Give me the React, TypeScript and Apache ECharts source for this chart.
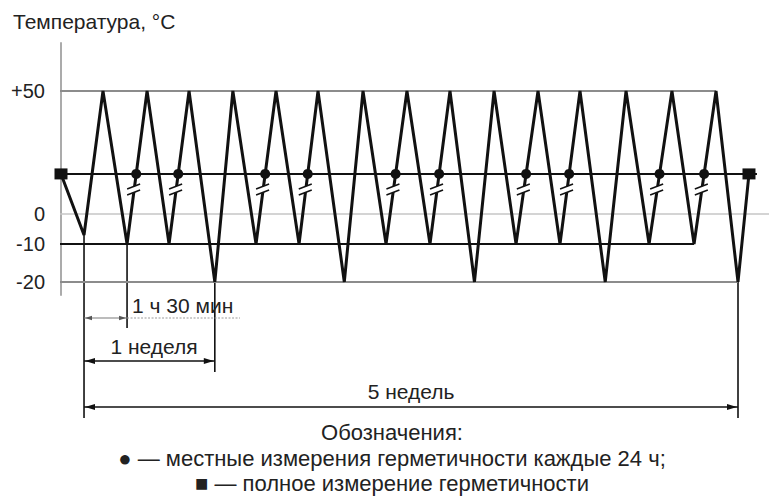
import React, { useEffect, useRef } from "react";
import * as echarts from "echarts";

// ---- data ----
// time of each vertex of the temperature profile, in weeks (0 = first cold point)
const VERTEX_WEEKS = [
  -0.176, 0, 0.145, 0.329, 0.482, 0.65, 0.803, 1.0,
  1.138, 1.315, 1.468, 1.644, 1.789, 1.99,
  2.133, 2.309, 2.469, 2.645, 2.798, 2.985,
  3.135, 3.303, 3.471, 3.639, 3.792, 3.985,
  4.144, 4.32, 4.495, 4.664, 4.832, 5.0, 5.084,
];
// temperature at each vertex, °C
const VERTEX_TEMPS = [
  20, -7, 50, -10, 50, -10, 50, -20,
  50, -10, 50, -10, 50, -20,
  50, -10, 50, -10, 50, -20,
  50, -10, 50, -10, 50, -20,
  50, -10, 50, -10, 50, -20, 20,
];
const ROOM_TEMP = 20; // level of the measurement line
const BREAK_TEMP = 12; // where the time-break marks sit on the rising edges
// index of the trough that starts a rising edge with a local check (●)
const LOCAL_CHECK_TROUGHS = [3, 5, 9, 11, 15, 17, 21, 23, 27, 29];
// vertices with a full check (■)
const FULL_CHECK_VERTICES = [0, 32];

const Y_TICKS = [50, 0, -10, -20];
const Y_TICK_LABELS = ["+50", "0", "-10", "-20"];

const LEVEL_TEMPS = [50, ROOM_TEMP, 0, -10, -20];
const LEVEL_START = -0.275;
const LEVEL_ENDS = [4.832, 5.145, 5.24, 4.664, 5.0];

// schematic (non-linear) vertical scale of the drawing: °C -> drawing units
const SCALE_TEMPS = [-20, -10, 0, 20, 50];
const SCALE_UNITS = [-27.6, -12.2, 0, 16.3, 50];

const TITLE = "Температура, °C";
const DIM_CYCLE = "1 ч 30 мин";
const DIM_WEEK = "1 неделя";
const DIM_TOTAL = "5 недель";
const LEGEND_TITLE = "Обозначения:";
const LEGEND_LOCAL = "● — местные измерения герметичности каждые 24 ч;";
const LEGEND_FULL = "■ — полное измерение герметичности";

// ---- styles ----
const FONT = '"Liberation Sans", Arial, Helvetica, sans-serif';
const INK = "#111";
const TEXT = "#222";
const LEVEL_STYLES = [
  { color: "#8c8c8c", width: 2 },
  { color: "#111", width: 2 },
  { color: "#c6c6c6", width: 1.5 },
  { color: "#111", width: 2 },
  { color: "#8c8c8c", width: 2 },
];

function toU(t: number): number {
  for (let i = 0; i < SCALE_TEMPS.length - 1; i++) {
    const t0 = SCALE_TEMPS[i], t1 = SCALE_TEMPS[i + 1];
    if (t <= t1 || i === SCALE_TEMPS.length - 2) {
      const u0 = SCALE_UNITS[i], u1 = SCALE_UNITS[i + 1];
      return u0 + ((t - t0) / (t1 - t0)) * (u1 - u0);
    }
  }
  return t;
}

function risingPoint(i: number, t: number): [number, number] {
  const u0 = toU(VERTEX_TEMPS[i]);
  const u1 = toU(VERTEX_TEMPS[i + 1]);
  const ut = toU(t);
  const f = (ut - u0) / (u1 - u0);
  return [VERTEX_WEEKS[i] + f * (VERTEX_WEEKS[i + 1] - VERTEX_WEEKS[i]), ut];
}

export default function App() {
  const ref = useRef<HTMLDivElement>(null);

  useEffect(() => {
    document.body.style.margin = "0";
    const el = ref.current!;
    const chart = echarts.init(el, null, { renderer: "svg" });

    const profile = VERTEX_WEEKS.map((w, i) => [w, toU(VERTEX_TEMPS[i])]);
    const dots = LOCAL_CHECK_TROUGHS.map((i) => risingPoint(i, ROOM_TEMP));
    const breaks = LOCAL_CHECK_TROUGHS.map((i) => risingPoint(i, BREAK_TEMP));
    const squares = FULL_CHECK_VERTICES.map((i) => [VERTEX_WEEKS[i], toU(VERTEX_TEMPS[i])]);
    const tickUnits = Y_TICKS.map(toU);

    const levelSeries = LEVEL_TEMPS.map((t, k) => ({
      type: "line",
      data: [
        [LEVEL_START, toU(t)],
        [LEVEL_ENDS[k], toU(t)],
      ],
      symbol: "none",
      clip: false,
      silent: true,
      lineStyle: { color: LEVEL_STYLES[k].color, width: LEVEL_STYLES[k].width, opacity: 1 },
      z: 1,
    }));

    chart.setOption({
      animation: false,
      backgroundColor: "#fff",
      grid: { left: 61, top: 43, width: 708, height: 252, outerBoundsMode: "none", containLabel: false },
      xAxis: { type: "value", min: -0.176, max: 5.237, show: false },
      yAxis: {
        type: "value",
        min: -32.9,
        max: 69.5,
        axisLine: { show: true, onZero: false, lineStyle: { color: "#ababab", width: 2 } },
        axisTick: { show: false },
        splitLine: { show: false },
        axisLabel: {
          customValues: tickUnits,
          formatter: (v: number) => {
            let best = 0;
            tickUnits.forEach((u, i) => {
              if (Math.abs(u - v) < Math.abs(tickUnits[best] - v)) best = i;
            });
            return Y_TICK_LABELS[best];
          },
          fontSize: 20,
          fontFamily: FONT,
          color: TEXT,
          margin: 16,
        },
      },
      series: [
        ...levelSeries,
        {
          type: "line",
          data: profile,
          symbol: "none",
          clip: false,
          lineStyle: { color: INK, width: 3, join: "miter", opacity: 1 },
          z: 3,
        },
        {
          type: "custom",
          data: breaks,
          clip: false,
          z: 4,
          renderItem: (_p: any, api: any) => {
            const c = api.coord([api.value(0), api.value(1)]);
            const x = c[0], y = c[1];
            return {
              type: "group",
              children: [
                {
                  type: "polygon",
                  shape: { points: [[x - 6, y - 1], [x + 6, y - 6], [x + 6, y], [x - 6, y + 5]] },
                  style: { fill: "#fff" },
                },
                { type: "line", shape: { x1: x - 7, y1: y - 1, x2: x + 6, y2: y - 6 }, style: { stroke: INK, lineWidth: 1.5 } },
                { type: "line", shape: { x1: x - 7, y1: y + 5, x2: x + 6, y2: y }, style: { stroke: INK, lineWidth: 1.5 } },
              ],
            };
          },
        },
        {
          type: "scatter",
          data: dots,
          symbol: "circle",
          symbolSize: 10,
          itemStyle: { color: INK, opacity: 1 },
          z: 5,
        },
        {
          type: "scatter",
          data: squares,
          symbol: "rect",
          symbolSize: [13, 11],
          itemStyle: { color: INK, opacity: 1 },
          clip: false,
          z: 5,
        },
      ],
    });

    const P = (i: number) =>
      chart.convertToPixel({ gridIndex: 0 }, [VERTEX_WEEKS[i], toU(VERTEX_TEMPS[i])]) as number[];

    const g: any[] = [];
    const vline = (x: number, y1: number, y2: number, color = INK, w = 1.6) =>
      g.push({ type: "line", shape: { x1: x, y1, x2: x, y2 }, style: { stroke: color, lineWidth: w } });
    const hline = (x1: number, x2: number, y: number, color = INK, w = 1.6, dash?: number[]) =>
      g.push({ type: "line", shape: { x1, y1: y, x2, y2: y }, style: { stroke: color, lineWidth: w, lineDash: dash } });
    const arrow = (tip: number, y: number, dir: number, len: number, half: number, color = INK) =>
      g.push({
        type: "polygon",
        shape: { points: [[tip, y], [tip - dir * len, y - half], [tip - dir * len, y + half]] },
        style: { fill: color },
      });
    const text = (s: string, x: number, y: number, size: number, align: string) =>
      g.push({
        type: "text",
        x,
        y,
        style: {
          text: s,
          fontSize: size,
          fontFamily: FONT,
          fill: TEXT,
          align,
          textAlign: align,
          verticalAlign: "middle",
          textVerticalAlign: "middle",
        },
      });

    const a = P(1); // week 0 trough
    const b = P(3); // end of first 1 h 30 min cycle
    const c = P(7); // end of week 1
    const d = P(31); // end of week 5

    vline(a[0], a[1], 418);
    vline(b[0], b[1], 328);
    vline(c[0], c[1], 372);
    vline(d[0], d[1], 418);

    // 1 h 30 min
    hline(a[0], b[0], 318, "#7a7a7a", 1.2);
    arrow(a[0] + 1, 318, -1, 7, 2.2, "#555");
    arrow(b[0] - 1, 318, 1, 7, 2.2, "#555");
    hline(b[0], 240, 318, "#9a9a9a", 1.2, [2, 1.5]);
    text(DIM_CYCLE, 132, 305, 21, "left");

    // 1 week
    hline(a[0], c[0], 361);
    arrow(a[0] + 1, 361, -1, 10, 3);
    arrow(c[0] - 1, 361, 1, 10, 3);
    text(DIM_WEEK, 154, 346, 21, "center");

    // 5 weeks
    hline(a[0], d[0], 407);
    arrow(a[0] + 1, 407, -1, 10, 3);
    arrow(d[0] - 1, 407, 1, 10, 3);
    text(DIM_TOTAL, (a[0] + d[0]) / 2, 391, 21, "center");

    // title and legend
    text(TITLE, 13, 21, 21, "left");
    text(LEGEND_TITLE, 392, 432, 22, "center");
    text(LEGEND_LOCAL, 392, 458, 22, "center");
    text(LEGEND_FULL, 392, 483, 22, "center");

    chart.setOption({ graphic: g });

    return () => chart.dispose();
  }, []);

  return <div ref={ref} style={{ width: 769, height: 497, background: "#fff" }} />;
}
